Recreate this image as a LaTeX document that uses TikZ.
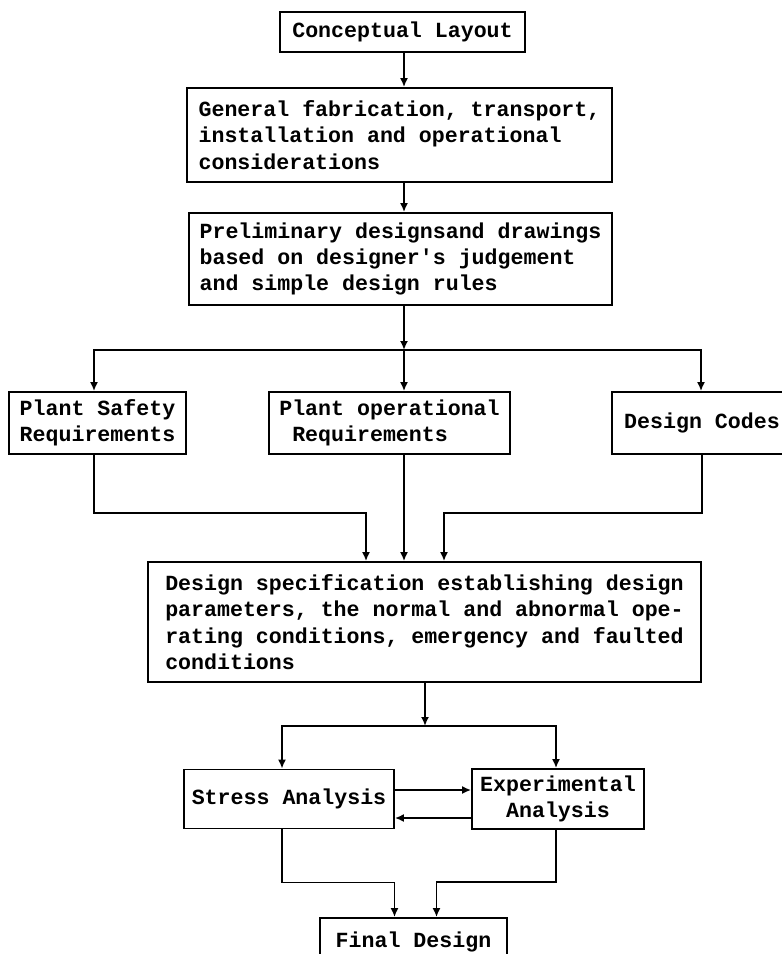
\documentclass[tikz,border=0pt]{standalone}
\usepackage{fontspec}
\newfontfamily\typefont{Liberation Mono}
\usetikzlibrary{arrows.meta,calc}
\tikzset{
  flowbox/.style={draw, line width=0.9pt, inner sep=0pt, align=left,
    font=\typefont\bfseries\fontsize{10.8}{13.2}\selectfont},
  flowarrow/.style={-{Latex[length=4.5pt,width=4pt]}, line width=0.9pt}
}

\begin{document}
\begin{tikzpicture}[x=0.5pt, y=-0.5pt]
    \useasboundingbox (0,0) rectangle (782,954);
    \node[flowbox, minimum width=122.5pt, minimum height=20pt] (layout) at (402.5,32) {Conceptual Layout};
    \node[flowbox, minimum width=212.5pt, minimum height=47pt] (general) at (399.5,135)
      {General fabrication, transport,\\installation and operational\\considerations};
    \node[flowbox, minimum width=211.5pt, minimum height=46pt] (prelim) at (400.5,259)
      {Preliminary designsand drawings\\based on designer's judgement\\and simple design rules};
    \node[flowbox, minimum width=88.5pt, minimum height=31pt] (safety) at (97.5,423)
      {Plant Safety\\Requirements};
    \node[flowbox, minimum width=120.5pt, minimum height=31pt] (operation) at (389.5,423)
      {Plant operational\\\phantom{P}Requirements};
    \node[flowbox, minimum width=90pt, minimum height=31pt] (codes) at (702,423) {Design Codes};
    \node[flowbox, minimum width=276.5pt, minimum height=60pt] (spec) at (424.5,622)
      {Design specification establishing design\\parameters, the normal and abnormal ope-\\rating conditions, emergency and faulted\\conditions};
    \node[flowbox, minimum width=105pt, minimum height=29.5pt] (stress) at (289,799) {Stress Analysis};
    \node[flowbox, align=center, minimum width=86pt, minimum height=30pt] (expt) at (558,799)
      {Experimental\\Analysis};
    \node[flowbox, minimum width=93.5pt, minimum height=24pt] (final) at (413.5,942) {Final Design};
    \coordinate (split) at (404,350);
    \coordinate (fork) at (425,726);
    \draw[flowarrow] (layout.south -| split) -- (split |- general.north);
    \draw[flowarrow] (general.south -| split) -- (split |- prelim.north);
    \draw[flowarrow] (prelim.south -| split) -- (split);
    \draw[flowarrow] (split) -| ($(safety.north)+(-3.5,0)$);
    \draw[flowarrow] (split) -| ($(codes.north)+(-1,0)$);
    \draw[flowarrow] (split) -- (split |- operation.north);
    \draw[flowarrow] ($(safety.south)+(-3.5,0)$) -- ++(0,58) -| ($(split |- spec.north)+(-38,0)$);
    \draw[flowarrow] (operation.south -| split) -- (split |- spec.north);
    \draw[flowarrow] (codes.south) -- ++(0,58) -| ($(split |- spec.north)+(40,0)$);
    \draw[flowarrow] (spec.south -| fork) -- (fork);
    \draw[flowarrow] (fork) -| ($(stress.north)+(-7,0)$);
    \draw[flowarrow] (fork) -| ($(expt.north)+(-2,0)$);
    \draw[flowarrow] ($(stress.east)+(0,-9)$) -- ($(expt.west)+(0,-9)$);
    \draw[flowarrow] ($(expt.west)+(0,19)$) -- ($(stress.east)+(0,19)$);
    \draw[flowarrow] ($(stress.south)+(-7,0)$) -- ++(0,53) -| ($(final.north)+(-19,0)$);
    \draw[flowarrow] ($(expt.south)+(-2,0)$) -- ++(0,52) -| ($(final.north)+(23,0)$);
  \end{tikzpicture}
\end{document}
